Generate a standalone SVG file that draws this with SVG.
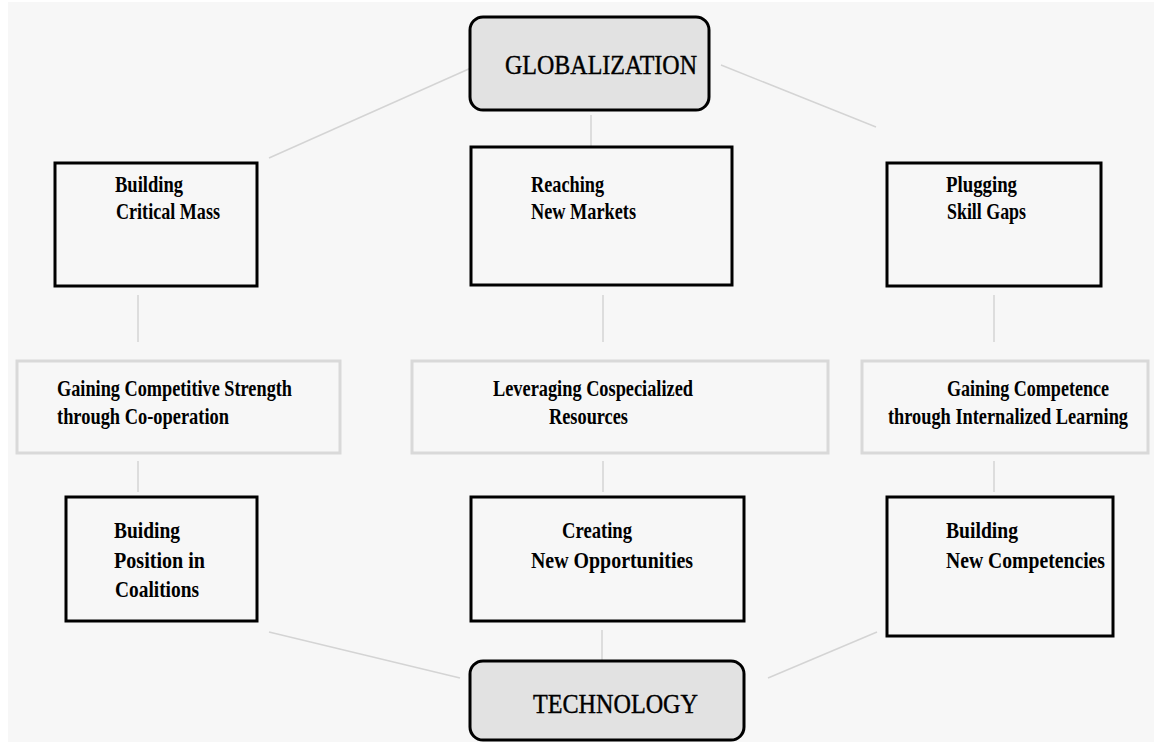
<svg xmlns="http://www.w3.org/2000/svg" width="1154" height="742" viewBox="0 0 1154 742">
<style>
.bg{fill:#f7f7f7}
.box{fill:none;stroke:#000;stroke-width:3}
.mid{fill:none;stroke:#d9d9d9;stroke-width:3}
.hub{fill:#e2e2e2;stroke:#000;stroke-width:3}
.lbl{font-family:"Liberation Serif","Times New Roman",serif;font-size:24px;font-weight:bold;fill:#000}
.hubt{font-family:"Liberation Serif","Times New Roman",serif;font-size:27px;fill:#000;stroke:#000;stroke-width:0.4}
.con line{stroke:#d4d4d4;stroke-width:1.5}
</style>
<rect class="bg" x="8" y="2" width="1146" height="740"/>
<g class="con">
<line x1="471" y1="68" x2="269" y2="158"/>
<line x1="721" y1="65" x2="876" y2="127"/>
<line x1="591" y1="115" x2="591" y2="147"/>
<line x1="138" y1="295" x2="138" y2="342"/>
<line x1="603" y1="295" x2="603" y2="342"/>
<line x1="994" y1="295" x2="994" y2="342"/>
<line x1="138" y1="461" x2="138" y2="492"/>
<line x1="603" y1="461" x2="603" y2="492"/>
<line x1="994" y1="461" x2="994" y2="492"/>
<line x1="602" y1="630" x2="602" y2="661"/>
<line x1="269" y1="632" x2="460" y2="678"/>
<line x1="877" y1="632" x2="768" y2="678"/>
</g>
<g id="globalization">
<rect class="hub" x="470" y="17" width="239" height="93" rx="13"/>
<text class="hubt" x="505" y="74" textLength="192" lengthAdjust="spacingAndGlyphs">GLOBALIZATION</text>
</g>
<g id="critical-mass">
<rect class="box" x="55" y="163" width="202" height="123"/>
<text class="lbl" x="115" y="192" textLength="68" lengthAdjust="spacingAndGlyphs">Building</text>
<text class="lbl" x="116" y="219" textLength="104" lengthAdjust="spacingAndGlyphs">Critical Mass</text>
</g>
<g id="new-markets">
<rect class="box" x="471" y="147" width="261" height="138"/>
<text class="lbl" x="531" y="192" textLength="73" lengthAdjust="spacingAndGlyphs">Reaching</text>
<text class="lbl" x="531" y="219" textLength="105" lengthAdjust="spacingAndGlyphs">New Markets</text>
</g>
<g id="skill-gaps">
<rect class="box" x="887" y="163" width="214" height="123"/>
<text class="lbl" x="946" y="192" textLength="71" lengthAdjust="spacingAndGlyphs">Plugging</text>
<text class="lbl" x="947" y="219" textLength="79" lengthAdjust="spacingAndGlyphs">Skill Gaps</text>
</g>
<g id="cooperation">
<rect class="mid" x="17" y="361" width="323" height="92"/>
<text class="lbl" x="57" y="396" textLength="235" lengthAdjust="spacingAndGlyphs">Gaining Competitive Strength</text>
<text class="lbl" x="57" y="424" textLength="172" lengthAdjust="spacingAndGlyphs">through Co-operation</text>
</g>
<g id="cospecialized">
<rect class="mid" x="412" y="361" width="416" height="92"/>
<text class="lbl" x="493" y="396" textLength="200" lengthAdjust="spacingAndGlyphs">Leveraging Cospecialized</text>
<text class="lbl" x="549" y="424" textLength="79" lengthAdjust="spacingAndGlyphs">Resources</text>
</g>
<g id="internalized-learning">
<rect class="mid" x="862" y="361" width="286" height="92"/>
<text class="lbl" transform="translate(947,396) scale(0.75,1)" x="0" y="0" textLength="216" lengthAdjust="spacingAndGlyphs">Gaining Competence</text>
<text class="lbl" transform="translate(888,424) scale(0.75,1)" x="0" y="0" textLength="320" lengthAdjust="spacingAndGlyphs">through Internalized Learning</text>
</g>
<g id="coalitions">
<rect class="box" x="66" y="497" width="191" height="124"/>
<text class="lbl" x="114" y="538" textLength="66" lengthAdjust="spacingAndGlyphs">Buiding</text>
<text class="lbl" x="114" y="568" textLength="91" lengthAdjust="spacingAndGlyphs">Position in</text>
<text class="lbl" x="115" y="597" textLength="84" lengthAdjust="spacingAndGlyphs">Coalitions</text>
</g>
<g id="opportunities">
<rect class="box" x="471" y="497" width="273" height="124"/>
<text class="lbl" x="562" y="538" textLength="70" lengthAdjust="spacingAndGlyphs">Creating</text>
<text class="lbl" x="531" y="568" textLength="162" lengthAdjust="spacingAndGlyphs">New Opportunities</text>
</g>
<g id="competencies">
<rect class="box" x="887" y="497" width="226" height="139"/>
<text class="lbl" x="946" y="538" textLength="72" lengthAdjust="spacingAndGlyphs">Building</text>
<text class="lbl" x="946" y="568" textLength="159" lengthAdjust="spacingAndGlyphs">New Competencies</text>
</g>
<g id="technology">
<rect class="hub" x="470" y="661" width="274" height="79" rx="13"/>
<text class="hubt" x="533" y="713" textLength="165" lengthAdjust="spacingAndGlyphs">TECHNOLOGY</text>
</g>
</svg>
